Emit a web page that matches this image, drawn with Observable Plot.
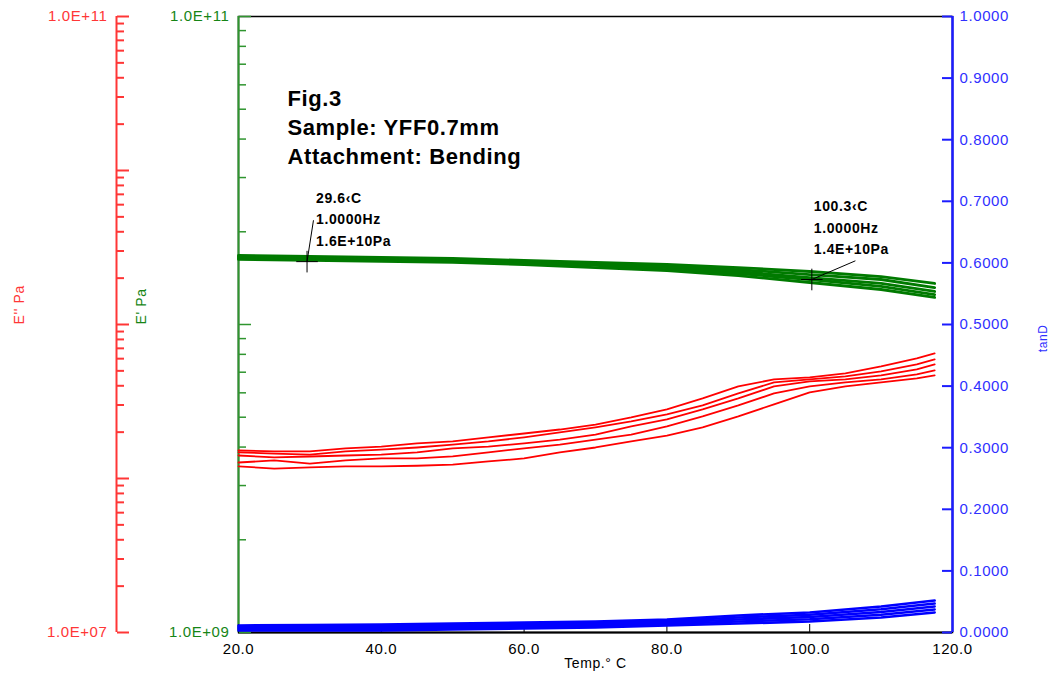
<!DOCTYPE html>
<html>
<head>
<meta charset="utf-8">
<script src="https://cdn.jsdelivr.net/npm/d3@7"></script>
<script src="https://cdn.jsdelivr.net/npm/@observablehq/plot@0.6"></script>
<style>
  body { margin: 0; background: #fff; }
  #chart { position: relative; width: 1055px; height: 683px; }
  #chart svg { position: absolute; left: 0; top: 0; }
</style>
</head>
<body>
<div id="chart"></div>
<script>
// ---------------- data ----------------
const xDomain = [20, 120];
const xTicks = [20, 40, 60, 80, 100, 120];
const xTitle = "Temp.° C";

const redDomain = [1e7, 1e11];
const redDecades = [1e7, 1e8, 1e9, 1e10, 1e11];
const redLabelTicks = [1e7, 1e11];
const redLabels = ["1.0E+07", "1.0E+11"];
const redTitle = "E'' Pa";

const greenDomain = [1e9, 1e11];
const greenDecades = [1e9, 1e10, 1e11];
const greenLabelTicks = [1e9, 1e11];
const greenLabels = ["1.0E+09", "1.0E+11"];
const greenTitle = "E' Pa";

const blueDomain = [0, 1];
const blueTicks = [0, 0.1, 0.2, 0.3, 0.4, 0.5, 0.6, 0.7, 0.8, 0.9, 1.0];
const blueTitle = "tanD";

const minorMultipliers = [2, 3, 4, 5, 6, 7, 8, 9];

// E'' (loss modulus), units of 1e8 Pa
const redTemps = [20, 25, 30, 35, 40, 45, 50, 55, 60, 65, 70, 75, 80, 85, 90, 95, 100, 105, 110, 115, 117.5];
const redA = [1.52, 1.50, 1.50, 1.57, 1.61, 1.69, 1.74, 1.85, 1.96, 2.08, 2.24, 2.49, 2.81, 3.31, 3.96, 4.40, 4.54, 4.81, 5.35, 6.03, 6.49];
const redB = [1.48, 1.45, 1.43, 1.50, 1.54, 1.59, 1.66, 1.74, 1.85, 1.99, 2.15, 2.35, 2.61, 2.98, 3.57, 4.21, 4.40, 4.60, 4.96, 5.51, 5.94];
const redC = [1.41, 1.37, 1.39, 1.41, 1.43, 1.48, 1.57, 1.61, 1.69, 1.79, 1.93, 2.18, 2.42, 2.81, 3.31, 3.96, 4.27, 4.40, 4.67, 5.11, 5.51];
const redD = [1.27, 1.31, 1.25, 1.31, 1.35, 1.35, 1.39, 1.48, 1.57, 1.66, 1.79, 1.93, 2.18, 2.53, 2.98, 3.57, 3.96, 4.21, 4.40, 4.74, 5.04];
const redE = [1.20, 1.16, 1.18, 1.20, 1.20, 1.21, 1.23, 1.29, 1.35, 1.48, 1.59, 1.74, 1.90, 2.15, 2.53, 3.03, 3.62, 3.96, 4.21, 4.47, 4.67];

// E' (storage modulus), units of 1e10 Pa
const greenTemps = [20, 30, 40, 50, 60, 70, 80, 90, 100, 110, 117.5];
const green1 = [1.675, 1.663, 1.650, 1.638, 1.614, 1.590, 1.566, 1.531, 1.486, 1.431, 1.359];
const green2 = [1.663, 1.650, 1.638, 1.626, 1.602, 1.578, 1.543, 1.508, 1.453, 1.400, 1.318];
const green3 = [1.650, 1.638, 1.626, 1.614, 1.590, 1.566, 1.531, 1.486, 1.420, 1.359, 1.280];
const green4 = [1.638, 1.626, 1.614, 1.602, 1.578, 1.555, 1.508, 1.464, 1.400, 1.329, 1.251];
const green5 = [1.626, 1.614, 1.602, 1.590, 1.566, 1.531, 1.497, 1.442, 1.369, 1.299, 1.224];

// tanD
const blueTemps = [20, 30, 40, 50, 60, 70, 80, 90, 100, 110, 117.5];
const blue1 = [0.0114, 0.0120, 0.0130, 0.0146, 0.0162, 0.0179, 0.0211, 0.0276, 0.0325, 0.0422, 0.0519];
const blue2 = [0.0092, 0.0098, 0.0105, 0.0120, 0.0137, 0.0154, 0.0186, 0.0243, 0.0289, 0.0377, 0.0470];
const blue3 = [0.0073, 0.0076, 0.0082, 0.0097, 0.0114, 0.0130, 0.0162, 0.0211, 0.0252, 0.0333, 0.0422];
const blue4 = [0.0052, 0.0054, 0.0057, 0.0073, 0.0089, 0.0105, 0.0138, 0.0178, 0.0215, 0.0288, 0.0373];
const blue5 = [0.0032, 0.0032, 0.0032, 0.0049, 0.0065, 0.0081, 0.0114, 0.0146, 0.0179, 0.0244, 0.0325];

const figLines = ["Fig.3", "Sample: YFF0.7mm", "Attachment: Bending"];
const annotTemps = [29.6, 100.3];
const annotValues = [1.6e10, 1.4e10];
const annotLines = [
  ["29.6\u2039C", "1.0000Hz", "1.6E+10Pa"],
  ["100.3\u2039C", "1.0000Hz", "1.4E+10Pa"]
];
const leaderEndTemps = [30.5, 106.4];
const leaderEndValues = [2.18e10, 1.61e10];

// ---------------- layout / style ----------------
const W = 1055, H = 683, mL = 238, mR = 103, mT = 16, mB = 51;
const innerW = W - mL - mR, innerH = H - mT - mB;
const redAxisDx = -122;
const FONT = "'Liberation Sans', Arial, sans-serif";
const RED = "#ff0000", RED_AX = "#ff3636";
const GREEN = "#007a00", GREEN_AX = "#2f952f", GREEN_TX = "#168516";
const BLUE = "#0000ff", BLUE_AX = "#1c1cff", BLUE_TX = "#3030ff";

const rows = (temps, series, unit) =>
  series.flatMap((vals, k) => vals.map((v, i) => ({t: temps[i], v: v * unit, k})));
const minorOf = decades => decades.slice(0, -1).flatMap(d => minorMultipliers.map(m => m * d));

const redRows = rows(redTemps, [redA, redB, redC, redD, redE], 1e8);
const greenRows = rows(greenTemps, [green1, green2, green3, green4, green5], 1e10);
const blueRows = rows(blueTemps, [blue1, blue2, blue3, blue4, blue5], 1);
const annots = annotTemps.map((t, i) => ({
  t, e: annotValues[i], text: annotLines[i].join("\n"),
  t2: leaderEndTemps[i], e2: leaderEndValues[i]
}));

function layer(x, y, marks) {
  const svg = Plot.plot({
    width: W, height: H,
    marginLeft: mL, marginRight: mR, marginTop: mT, marginBottom: mB,
    x,
    y,
    style: `background:transparent;font-family:${FONT};overflow:visible;`,
    marks
  });
  svg.setAttribute("letter-spacing", "0.6");
  return svg;
}

// ---------------- green layer (E', frame, x axis, annotations) ----------------
const greenLayer = layer({domain: xDomain}, {type: "log", domain: greenDomain}, [
  Plot.frame({stroke: "black", strokeWidth: 1.5}),
  Plot.ruleY([greenDomain[0]], {stroke: "black", strokeWidth: 2.2}),
  Plot.ruleX([xDomain[0]], {stroke: GREEN_AX, strokeWidth: 2}),
  Plot.axisY(minorOf(greenDecades), {anchor: "right", dx: -innerW, tickSize: 7, text: null, stroke: GREEN_AX, strokeWidth: 1.5, label: null}),
  Plot.axisY(greenDecades, {anchor: "right", dx: -innerW, tickSize: 12, text: null, stroke: GREEN_AX, strokeWidth: 1.5, label: null}),
  Plot.axisY(greenLabelTicks, {anchor: "left", tickSize: 0, tickPadding: 9, fontSize: 15, fill: GREEN_TX, label: null,
    tickFormat: d => greenLabels[greenLabelTicks.indexOf(d)]}),
  Plot.text([greenTitle], {frameAnchor: "left", dx: 141 - mL, rotate: -90, fill: GREEN_TX, fontSize: 14}),
  // x axis
  Plot.axisX(xTicks, {anchor: "top", dy: innerH, tickSize: 9, text: null, stroke: "black", strokeWidth: 1, label: null}),
  Plot.axisX(xTicks, {anchor: "bottom", tickSize: 0, tickPadding: 11, fontSize: 15, fill: "black", label: null,
    tickFormat: d => d.toFixed(1)}),
  Plot.text([xTitle], {frameAnchor: "bottom", dy: 35, fontSize: 14, fill: "black"}),
  // curves
  Plot.line(greenRows, {x: "t", y: "v", z: "k", stroke: GREEN, strokeWidth: 2.8}),
  // annotations
  Plot.text([figLines.join("\n")], {frameAnchor: "top-left", dx: 49, dy: 69, textAnchor: "start", lineAnchor: "top",
    fontSize: 22, fontWeight: "bold", lineHeight: 1.32, fill: "black", ariaLabel: "figtitle"}),
  Plot.link(annots, {x1: "t", y1: "e", x2: "t2", y2: "e2", stroke: "black", strokeWidth: 1}),
  Plot.dot(annots, {x: "t", y: "e", symbol: "plus", r: 7, stroke: "black", strokeWidth: 1}),
  Plot.text([annots[0]], {x: "t", y: "e", text: "text", dx: 9, dy: -16, textAnchor: "start", lineAnchor: "bottom",
    fontSize: 14, fontWeight: "bold", lineHeight: 1.54, fill: "black", ariaLabel: "annot"}),
  Plot.text([annots[1]], {x: "t", y: "e", text: "text", dx: 2, dy: -25, textAnchor: "start", lineAnchor: "bottom",
    fontSize: 14, fontWeight: "bold", lineHeight: 1.54, fill: "black", ariaLabel: "annot"})
]);

// ---------------- red layer (E'') ----------------
const redLayer = layer({domain: xDomain, axis: null}, {type: "log", domain: redDomain}, [
  Plot.ruleX([xDomain[0]], {dx: redAxisDx, stroke: RED_AX, strokeWidth: 2}),
  Plot.axisY(minorOf(redDecades), {anchor: "right", dx: redAxisDx - innerW, tickSize: 7, text: null, stroke: RED_AX, strokeWidth: 2, label: null}),
  Plot.axisY(redDecades, {anchor: "right", dx: redAxisDx - innerW, tickSize: 12, text: null, stroke: RED_AX, strokeWidth: 2, label: null}),
  Plot.axisY(redLabelTicks, {anchor: "left", dx: redAxisDx, tickSize: 0, tickPadding: 9, fontSize: 15, fill: RED_AX, label: null,
    tickFormat: d => redLabels[redLabelTicks.indexOf(d)]}),
  Plot.text([redTitle], {frameAnchor: "left", dx: 19 - mL, rotate: -90, fill: RED_AX, fontSize: 14}),
  Plot.line(redRows, {x: "t", y: "v", z: "k", stroke: RED, strokeWidth: 1.8})
]);

// ---------------- blue layer (tanD) ----------------
const blueLayer = layer({domain: xDomain, axis: null}, {domain: blueDomain}, [
  Plot.ruleX([xDomain[1]], {stroke: BLUE_AX, strokeWidth: 2.5}),
  Plot.axisY(blueTicks, {anchor: "left", dx: innerW, tickSize: 10, text: null, stroke: BLUE_AX, strokeWidth: 2, label: null}),
  Plot.axisY(blueTicks, {anchor: "right", tickSize: 0, tickPadding: 7, fontSize: 15, fill: BLUE_TX, label: null,
    tickFormat: d => d.toFixed(4)}),
  Plot.text([blueTitle], {frameAnchor: "right", dx: 1043 - (W - mR), rotate: -90, fill: BLUE_TX, fontSize: 12}),
  Plot.line(blueRows, {x: "t", y: "v", z: "k", stroke: BLUE, strokeWidth: 2.6})
]);

const chart = document.getElementById("chart");
chart.append(greenLayer, redLayer, blueLayer);
d3.select(greenLayer).selectAll('g[aria-label="figtitle"]').attr("letter-spacing", "1.2");
d3.select(greenLayer).selectAll('g[aria-label="annot"]').attr("letter-spacing", "1.5");
</script>
</body>
</html>
